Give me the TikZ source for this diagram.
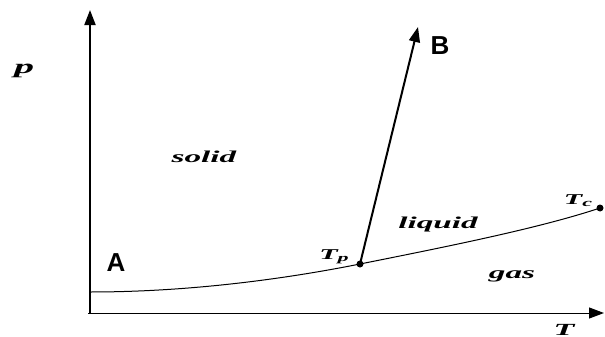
\documentclass[tikz,border=0pt]{standalone}
\usepackage{fontspec}
\setmainfont{Liberation Serif}
\newfontfamily\sansf{Liberation Sans}
\usetikzlibrary{arrows.meta}
\newcommand{\widelbl}[2][8pt]{\scalebox{2}[1]{\fontsize{#1}{#1}\selectfont\bfseries\itshape #2}}
\tikzset{
  axis/.style={line width=0.5pt,-{Triangle[length=7.5pt,width=5.5pt]}},
  boundary/.style={line width=0.5pt},
  pt/.style={circle,fill=black,inner sep=0pt,minimum size=3.5pt},
  phase/.style={inner sep=0pt},
  bigl/.style={inner sep=0pt,font=\sansf\bfseries\fontsize{13pt}{14pt}\selectfont},
}
\begin{document}
\begin{tikzpicture}[x=0.5pt,y=-0.5pt]
\useasboundingbox (0,0) rectangle (605,337);
% axes
\coordinate (o) at (90,313);
\coordinate (ytop) at (90,10);
\coordinate (xend) at (604,313);
\draw[axis,line width=1pt] (o) -- (ytop);
\draw[axis] ([xshift=-1pt]o) -- (xend);
% boundary curve
\coordinate (start) at (90,292);
\node[pt] (tp) at (360,264) {};
\node[pt] (tc) at (600,208) {};
\draw[boundary] (start) .. controls (200,292) and (300,276) .. (tp.center)
  .. controls (450,246) and (540,228) .. (tc.center);
% arrow to B
\coordinate (btip) at (418,27);
\draw[line width=1pt,-{Triangle[length=7.5pt,width=5.5pt]}] (tp.center) -- (btip);
% labels
\node[bigl] (A) at (116,263) {A};
\node[bigl] (B) at (440,46) {B};
\node[phase] (p) at (24,71) {\widelbl[10pt]{p}};
\node[phase] (T) at (564,330) {\widelbl[8.5pt]{T}};
\node[phase] (solid) at (204,157) {\widelbl[8.3pt]{solid}};
\node[phase] (liquid) at (438,225) {\widelbl[8.3pt]{liquid}};
\node[phase] (gas) at (512,276) {\widelbl[8.3pt]{gas}};
\node[phase] (tplbl) at (334,257) {\widelbl[7.5pt]{T\raisebox{-0.3ex}{\fontsize{5.5pt}{5.5pt}\selectfont p}}};
\node[phase] (tclbl) at (578,201) {\widelbl[7.5pt]{T\raisebox{-0.3ex}{\fontsize{5.5pt}{5.5pt}\selectfont c}}};
\end{tikzpicture}
\end{document}
